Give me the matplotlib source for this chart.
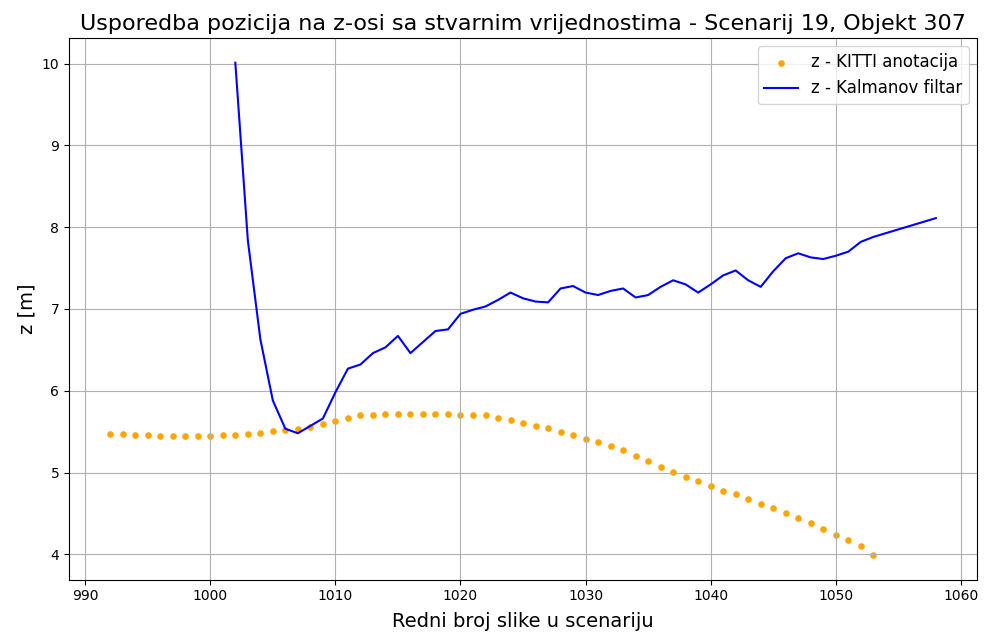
import numpy as np
import matplotlib
matplotlib.use("Agg")
import matplotlib.pyplot as plt

# KITTI annotations (ground truth z), one per frame
frames_gt = np.arange(992, 1054)
z_gt = [5.47, 5.47, 5.46, 5.46, 5.45, 5.45, 5.45, 5.45, 5.45, 5.455,
        5.46, 5.47, 5.48, 5.51, 5.52, 5.535, 5.555, 5.595, 5.63, 5.67,
        5.70, 5.70, 5.71, 5.71, 5.71, 5.71, 5.71, 5.71, 5.70, 5.70,
        5.70, 5.67, 5.64, 5.60, 5.565, 5.54, 5.50, 5.46, 5.41, 5.37,
        5.32, 5.27, 5.20, 5.14, 5.07, 5.01, 4.95, 4.90, 4.835, 4.78,
        4.74, 4.68, 4.62, 4.57, 4.51, 4.44, 4.38, 4.31, 4.24, 4.17,
        4.10, 3.99]

# Kalman filter estimate
frames_kf = [1002, 1003, 1004, 1005, 1006, 1007, 1009, 1010, 1011, 1012,
             1013, 1014, 1015, 1016, 1018, 1019, 1020, 1021, 1022, 1023,
             1024, 1025, 1026, 1027, 1028, 1029, 1030, 1031, 1032, 1033,
             1034, 1035, 1036, 1037, 1038, 1039, 1040, 1041, 1042, 1043,
             1044, 1045, 1046, 1047, 1048, 1049, 1050, 1051, 1052, 1053,
             1058]
z_kf = [10.01, 7.84, 6.63, 5.88, 5.535, 5.48, 5.66, 5.98, 6.27, 6.32,
        6.46, 6.53, 6.67, 6.46, 6.73, 6.75, 6.94, 6.99, 7.03, 7.11,
        7.20, 7.13, 7.09, 7.08, 7.25, 7.28, 7.20, 7.17, 7.22, 7.25,
        7.14, 7.17, 7.27, 7.35, 7.30, 7.20, 7.30, 7.41, 7.47, 7.35,
        7.27, 7.46, 7.62, 7.68, 7.63, 7.61, 7.65, 7.70, 7.82, 7.88,
        8.11]

fig, ax = plt.subplots(figsize=(9.85, 6.35), dpi=100)
fig.subplots_adjust(left=0.070, right=0.992, top=0.940, bottom=0.087)

ax.scatter(frames_gt, z_gt, color='orange', s=14, label='z - KITTI anotacija')
ax.plot(frames_kf, z_kf, color='blue', linewidth=1.5, label='z - Kalmanov filtar')

ax.set_title('Usporedba pozicija na z-osi sa stvarnim vrijednostima - Scenarij 19, Objekt 307', fontsize=16)
ax.set_xlabel('Redni broj slike u scenariju', fontsize=14, labelpad=6)
ax.set_ylabel('z [m]', fontsize=14)
ax.legend(loc='upper right', fontsize=12)
ax.grid(True)

fig.savefig('out.png')
